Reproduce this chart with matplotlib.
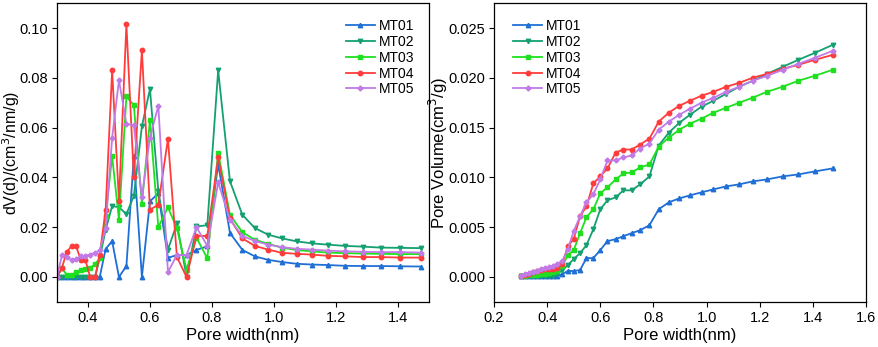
import matplotlib
matplotlib.use("Agg")
import matplotlib.pyplot as plt

plt.rcParams['font.family'] = ['Liberation Sans', 'DejaVu Sans']

pore_width = [0.300, 0.316, 0.331, 0.347, 0.362, 0.377, 0.392, 0.407, 0.423, 0.438,
              0.457, 0.478, 0.500, 0.524, 0.548, 0.574, 0.600, 0.627, 0.658, 0.687,
              0.718, 0.750, 0.785, 0.820, 0.858, 0.898, 0.938, 0.981, 1.026, 1.074,
              1.123, 1.173, 1.228, 1.286, 1.345, 1.407, 1.474]

# dV(d) distributions
dv_mt01 = [0, 0, 0, 0, 0, 0, 0, 0, 0, 0,
           0.0113, 0.0144, 0.0, 0.0044, 0.0484, 0.0, 0.0304, 0.0336, 0.0077, 0.0088,
           0.0088, 0.0109, 0.0123, 0.0453, 0.0177, 0.0109, 0.0083, 0.0069, 0.0060, 0.0053,
           0.0050, 0.0048, 0.0045, 0.0044, 0.0044, 0.0043, 0.0042]
dv_mt02 = [0, 0, 0, 0, 0, 0, 0, 0, 0, 0.0075,
           0.0190, 0.0285, 0.0280, 0.0253, 0.0325, 0.0605, 0.0755, 0.0345, 0.0110, 0.0215,
           0.0, 0.0203, 0.0208, 0.0830, 0.0385, 0.0250, 0.0197, 0.0170, 0.0155, 0.0143,
           0.0135, 0.0130, 0.0125, 0.0122, 0.0118, 0.0117, 0.0116]
dv_mt03 = [0, 0.0035, 0.0010, 0.0007, 0.0020, 0.0029, 0.0033, 0.0037, 0.0052, 0.0075,
           0.0245, 0.0485, 0.0230, 0.0725, 0.0690, 0.0295, 0.0630, 0.0200, 0.0280, 0.0195,
           0.0030, 0.0158, 0.0075, 0.0500, 0.0250, 0.0180, 0.0150, 0.0133, 0.0118, 0.0108,
           0.0103, 0.0098, 0.0096, 0.0094, 0.0093, 0.0092, 0.0092]
dv_mt04 = [0, 0.0036, 0.0100, 0.0124, 0.0124, 0.0067, 0.0067, 0.0, 0.0, 0.0090,
           0.0270, 0.0830, 0.0305, 0.1015, 0.0400, 0.0910, 0.0270, 0.0290, 0.0555, 0.0080,
           0.0, 0.0165, 0.0165, 0.0480, 0.0235, 0.0155, 0.0125, 0.0110, 0.0097, 0.0093,
           0.0090, 0.0085, 0.0083, 0.0080, 0.0080, 0.0078, 0.0078]
dv_mt05 = [0, 0.0087, 0.0082, 0.0068, 0.0073, 0.0083, 0.0086, 0.0090, 0.0096, 0.0107,
           0.0195, 0.0560, 0.0790, 0.0615, 0.0610, 0.0320, 0.0560, 0.0688, 0.0020, 0.0088,
           0.0088, 0.0200, 0.0125, 0.0380, 0.0230, 0.0165, 0.0145, 0.0130, 0.0120, 0.0113,
           0.0110, 0.0106, 0.0103, 0.0101, 0.0100, 0.0100, 0.0098]

# cumulative pore volume
pv_mt01 = [0.0001, 0.0001, 0.0001, 0.0001, 0.0001, 0.0001, 0.0001, 0.0001, 0.0001, 0.0001,
           0.0003, 0.0006, 0.0006, 0.0007, 0.0019, 0.0019, 0.0027, 0.0036, 0.0038, 0.0041,
           0.0044, 0.0047, 0.0052, 0.0068, 0.0075, 0.0079, 0.0082, 0.0085, 0.0088, 0.0091,
           0.0093, 0.0096, 0.0098, 0.0101, 0.0103, 0.0106, 0.0109]
pv_mt02 = [0.0001, 0.0001, 0.0001, 0.0001, 0.0001, 0.0001, 0.0001, 0.0001, 0.0001, 0.0003,
           0.0007, 0.0012, 0.0018, 0.0024, 0.0032, 0.0048, 0.0068, 0.0077, 0.0080, 0.0087,
           0.0087, 0.0093, 0.0101, 0.0132, 0.0145, 0.0155, 0.0163, 0.0171, 0.0177, 0.0184,
           0.0191, 0.0197, 0.0204, 0.0211, 0.0218, 0.0225, 0.0233]
pv_mt03 = [0.0001, 0.0001, 0.0002, 0.0002, 0.0002, 0.0003, 0.0003, 0.0004, 0.0005, 0.0006,
           0.0011, 0.0022, 0.0027, 0.0044, 0.0060, 0.0068, 0.0084, 0.0090, 0.0098, 0.0104,
           0.0105, 0.0110, 0.0113, 0.0131, 0.0140, 0.0148, 0.0154, 0.0159, 0.0165, 0.0170,
           0.0175, 0.0180, 0.0186, 0.0191, 0.0197, 0.0202, 0.0208]
pv_mt04 = [0.0001, 0.0002, 0.0003, 0.0005, 0.0006, 0.0007, 0.0008, 0.0008, 0.0008, 0.0009,
           0.0013, 0.0031, 0.0038, 0.0061, 0.0071, 0.0094, 0.0101, 0.0109, 0.0125, 0.0128,
           0.0128, 0.0133, 0.0139, 0.0156, 0.0165, 0.0172, 0.0177, 0.0182, 0.0186, 0.0191,
           0.0195, 0.0200, 0.0204, 0.0209, 0.0213, 0.0218, 0.0223]
pv_mt05 = [0.0001, 0.0003, 0.0004, 0.0005, 0.0006, 0.0008, 0.0009, 0.0010, 0.0011, 0.0013,
           0.0016, 0.0028, 0.0046, 0.0061, 0.0075, 0.0083, 0.0098, 0.0117, 0.0117, 0.0120,
           0.0122, 0.0129, 0.0134, 0.0148, 0.0156, 0.0163, 0.0169, 0.0175, 0.0180, 0.0186,
           0.0191, 0.0197, 0.0202, 0.0208, 0.0214, 0.0220, 0.0227]

labels = ['MT01', 'MT02', 'MT03', 'MT04', 'MT05']
colors = ['#1f6fd6', '#14a070', '#1ee01e', '#ff3c3c', '#c27ae6']
markers = ['^', 'v', 's', 'o', 'P']
msizes = [3.2, 3.2, 3.2, 3.2, 3.2]

dv_series = [dv_mt01, dv_mt02, dv_mt03, dv_mt04, dv_mt05]
pv_series = [pv_mt01, pv_mt02, pv_mt03, pv_mt04, pv_mt05]

fig = plt.figure(figsize=(8.79, 3.47), dpi=100)
ax1 = fig.add_axes([0.0648, 0.130, 0.4232, 0.861])
ax2 = fig.add_axes([0.562, 0.130, 0.4232, 0.861])

for ys, lab, c, m, ms in zip(dv_series, labels, colors, markers, msizes):
    ax1.plot(pore_width, ys, color=c, marker=m, markersize=ms, linewidth=1.3, label=lab)
for ys, lab, c, m, ms in zip(pv_series, labels, colors, markers, msizes):
    ax2.plot(pore_width, ys, color=c, marker=m, markersize=ms, linewidth=1.3, label=lab)

ax1.set_xlim(0.3, 1.5)
ax1.set_ylim(-0.01, 0.11)
ax1.set_xticks([0.4, 0.6, 0.8, 1.0, 1.2, 1.4])
ax1.set_yticks([0.00, 0.02, 0.04, 0.06, 0.08, 0.10])
ax1.set_yticklabels(['0.00', '0.02', '0.04', '0.06', '0.08', '0.10'])
ax1.set_xlabel('Pore width(nm)', fontsize=12)
ax1.set_ylabel('dV(d)/(cm$^3$/nm/g)', fontsize=11.5)
ax1.xaxis.set_label_coords(0.5, -0.087)
ax1.yaxis.set_label_coords(-0.095, 0.5)

ax2.set_xlim(0.2, 1.6)
ax2.set_ylim(-0.0025, 0.0275)
ax2.set_xticks([0.2, 0.4, 0.6, 0.8, 1.0, 1.2, 1.4, 1.6])
ax2.set_yticks([0.0, 0.005, 0.010, 0.015, 0.020, 0.025])
ax2.set_yticklabels(['0.000', '0.005', '0.010', '0.015', '0.020', '0.025'])
ax2.set_xlabel('Pore width(nm)', fontsize=12)
ax2.set_ylabel('Pore Volume(cm$^3$/g)', fontsize=12)
ax2.xaxis.set_label_coords(0.5, -0.087)
ax2.yaxis.set_label_coords(-0.118, 0.5)

for ax in (ax1, ax2):
    ax.tick_params(direction='out', length=3.5, width=0.8, labelsize=10.5, pad=3)
    for s in ax.spines.values():
        s.set_linewidth(0.9)

ax1.legend(loc='upper right', frameon=False, fontsize=10, handlelength=2.1,
           labelspacing=0.13, handletextpad=0.25, borderaxespad=0.0,
           bbox_to_anchor=(0.975, 0.965))
ax2.legend(loc='upper left', frameon=False, fontsize=10, handlelength=2.1,
           labelspacing=0.13, handletextpad=0.25, borderaxespad=0.0,
           bbox_to_anchor=(0.036, 0.965))

fig.savefig('out.png', dpi=100)
